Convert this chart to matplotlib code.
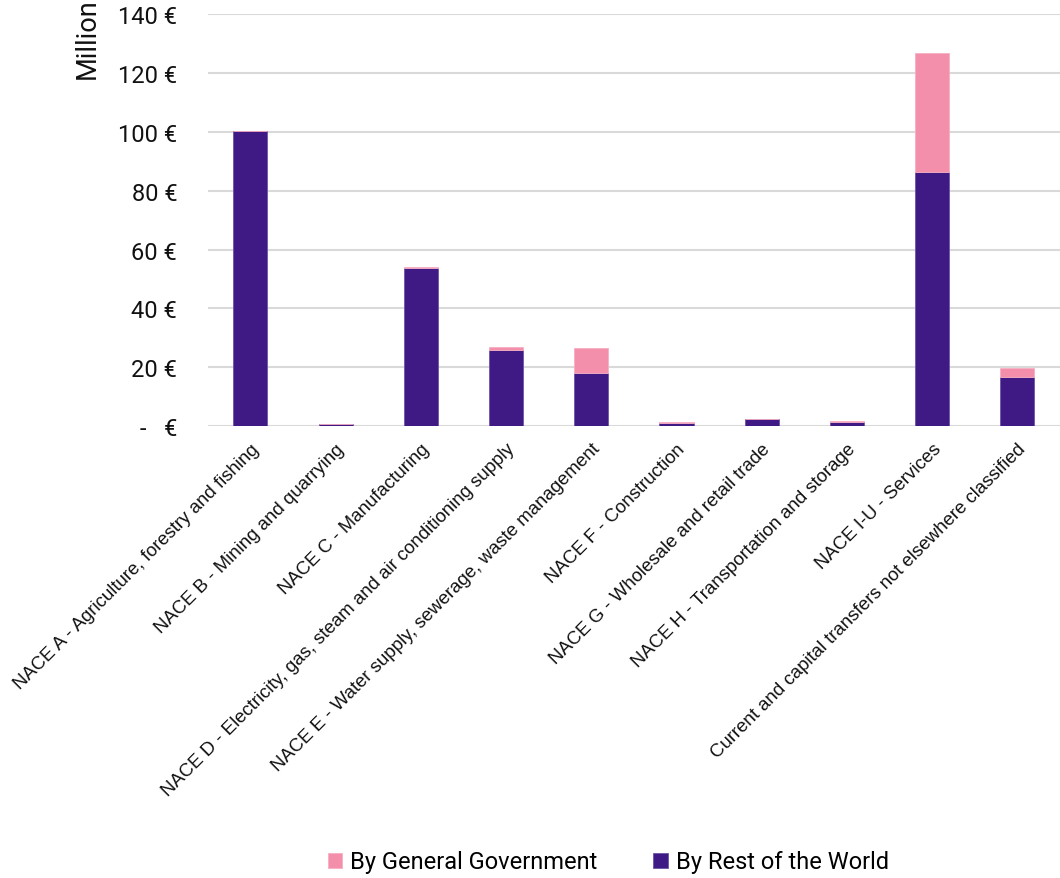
import numpy as np
import matplotlib.pyplot as plt
from matplotlib.ticker import FuncFormatter

plt.rcParams['font.family'] = ['Roboto', 'DejaVu Sans']

# Categories and stacked values (million euro)
sectors = [
    "NACE A - Agriculture, forestry and fishing",
    "NACE B - Mining and quarrying",
    "NACE C - Manufacturing",
    "NACE D - Electricity, gas, steam and air conditioning supply",
    "NACE E - Water supply, sewerage, waste management",
    "NACE F - Construction",
    "NACE G - Wholesale and retail trade",
    "NACE H - Transportation and storage",
    "NACE I-U - Services",
    "Current and capital transfers not elsewhere classified",
]
rest_of_world = [100.2, 0.7, 53.7, 25.9, 18.0, 1.0, 2.4, 1.5, 86.3, 16.8]
general_gov = [0.0, 0.0, 0.4, 1.0, 8.4, 0.3, 0.1, 0.2, 40.4, 3.0]

dark = "#3F1A84"
pink = "#F48FAB"

fig = plt.figure(figsize=(10.6, 8.79), dpi=100)
ax = fig.add_axes([0.196, 0.514, 0.804, 0.469])

x = np.arange(len(sectors))
ax.bar(x, rest_of_world, width=0.4, color=dark, edgecolor="#6E55A8", linewidth=0.6,
       label="By Rest of the World", zorder=3)
ax.bar(x, general_gov, width=0.4, bottom=rest_of_world, color=pink, edgecolor="#F7AFC3",
       linewidth=0.6, label="By General Government", zorder=3)

ax.set_xlim(-0.5, len(sectors) - 0.5)
ax.set_ylim(0, 140)
ax.set_yticks(np.arange(0, 141, 20))
ax.yaxis.set_major_formatter(FuncFormatter(lambda v, p: "-   €" if v == 0 else f"{v:.0f} €"))
ax.grid(axis="y", color="#D9D9D9", linewidth=1.5, zorder=0)
ax.set_axisbelow(True)
for s in ax.spines.values():
    s.set_visible(False)
ax.tick_params(axis="both", length=0)
ax.tick_params(axis="y", labelsize=17, pad=22, colors="#111111")

ax.set_xticks(x)
ax.set_xticklabels(sectors, rotation=45, ha="right", va="top", rotation_mode="anchor",
                   fontsize=13.4, color="#111111", family=["Liberation Sans", "DejaVu Sans"])
ax.tick_params(axis="x", pad=10)

fig.text(87 / 1060, 1 - 79 / 879, "Million", rotation=90, ha="center", va="bottom",
         fontsize=19.5, color="#111111")

handles, labels = ax.get_legend_handles_labels()
fig.legend(handles[::-1], labels[::-1], loc="center", bbox_to_anchor=(0.574, 1 - 863 / 879),
           ncol=2, frameon=False, fontsize=17, handlelength=0.62, handleheight=0.62,
           handletextpad=0.35, columnspacing=2.35)

fig.savefig("out.png", dpi=100)
